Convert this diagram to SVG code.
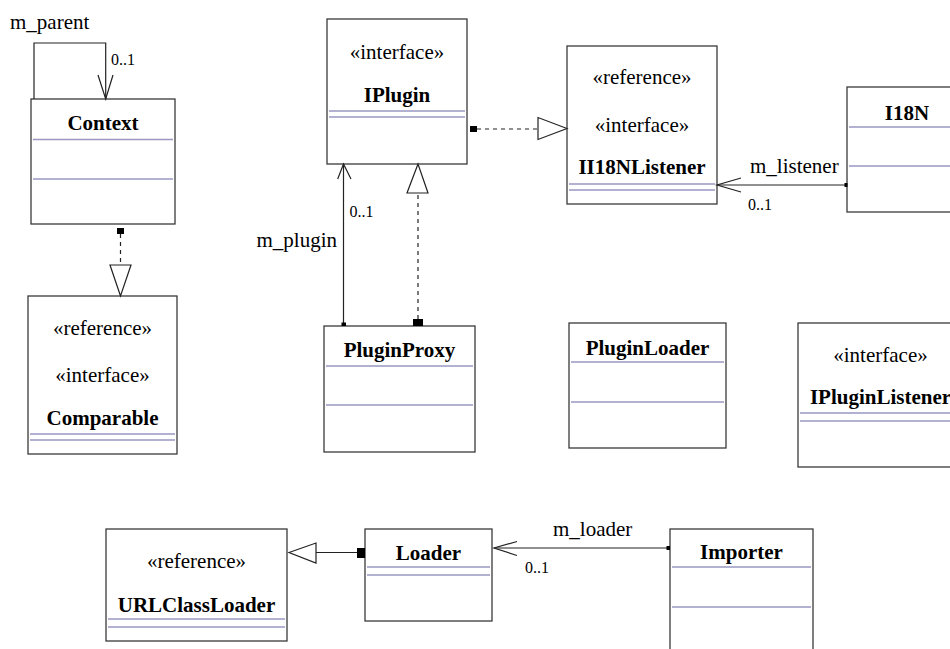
<svg xmlns="http://www.w3.org/2000/svg" width="950" height="649" viewBox="0 0 950 649">
  <style>
    .box { fill: #ffffff; stroke: #3a3a3a; stroke-width: 1.3; }
    .sep { stroke: #9a97c2; stroke-width: 1.3; fill: none; }
    .t { font-family: "Liberation Serif", "Times New Roman", serif; font-size: 21px; fill: #000; }
    .title { font-weight: bold; text-anchor: middle; }
    .st { text-anchor: middle; }
    .lbl { font-family: "Liberation Serif", "Times New Roman", serif; font-size: 21px; fill: #000; }
    .mult { font-family: "Liberation Serif", "Times New Roman", serif; font-size: 16px; fill: #000; }
    .ln { stroke: #222; stroke-width: 1.2; fill: none; }
    .dash { stroke: #222; stroke-width: 1.2; fill: none; stroke-dasharray: 4 4; }
    .tri { fill: #ffffff; stroke: #222; stroke-width: 1.2; }
    .sq { fill: #000; }
  </style>

  <!-- Classes -->
  <g id="Context">
    <rect class="box" x="31" y="99" width="144" height="125"/>
    <text class="t title" x="103" y="130">Context</text>
    <line class="sep" x1="33" y1="139.5" x2="173" y2="139.5"/>
    <line class="sep" x1="33" y1="179" x2="173" y2="179"/>
  </g>

  <g id="Comparable">
    <rect class="box" x="28" y="296" width="149" height="158"/>
    <text class="t st" x="102.5" y="335">«reference»</text>
    <text class="t st" x="102.5" y="382">«interface»</text>
    <text class="t title" x="102.5" y="425">Comparable</text>
    <line class="sep" x1="30" y1="434" x2="175" y2="434"/>
    <line class="sep" x1="30" y1="440" x2="175" y2="440"/>
  </g>

  <g id="IPlugin">
    <rect class="box" x="327" y="19" width="140" height="145"/>
    <text class="t st" x="397" y="59">«interface»</text>
    <text class="t title" x="397" y="102">IPlugin</text>
    <line class="sep" x1="329" y1="111" x2="465" y2="111"/>
    <line class="sep" x1="329" y1="117" x2="465" y2="117"/>
  </g>

  <g id="II18NListener">
    <rect class="box" x="567" y="46" width="150" height="158"/>
    <text class="t st" x="642" y="83.5">«reference»</text>
    <text class="t st" x="642" y="132">«interface»</text>
    <text class="t title" x="642" y="173.5">II18NListener</text>
    <line class="sep" x1="569" y1="184" x2="715" y2="184"/>
    <line class="sep" x1="569" y1="190" x2="715" y2="190"/>
  </g>

  <g id="I18N">
    <rect class="box" x="847" y="87" width="120" height="125"/>
    <text class="t title" x="907" y="120">I18N</text>
    <line class="sep" x1="849" y1="127" x2="965" y2="127"/>
    <line class="sep" x1="849" y1="166" x2="965" y2="166"/>
  </g>

  <g id="PluginProxy">
    <rect class="box" x="324" y="326" width="151" height="126"/>
    <text class="t title" x="399.5" y="357">PluginProxy</text>
    <line class="sep" x1="326" y1="366" x2="473" y2="366"/>
    <line class="sep" x1="326" y1="405" x2="473" y2="405"/>
  </g>

  <g id="PluginLoader">
    <rect class="box" x="569" y="323" width="157" height="125"/>
    <text class="t title" x="647.5" y="355">PluginLoader</text>
    <line class="sep" x1="571" y1="362" x2="724" y2="362"/>
    <line class="sep" x1="571" y1="402" x2="724" y2="402"/>
  </g>

  <g id="IPluginListener">
    <rect class="box" x="798" y="323" width="165" height="144"/>
    <text class="t st" x="880.5" y="362">«interface»</text>
    <text class="t title" x="880.5" y="403.5">IPluginListener</text>
    <line class="sep" x1="800" y1="413" x2="961" y2="413"/>
    <line class="sep" x1="800" y1="421" x2="961" y2="421"/>
  </g>

  <g id="URLClassLoader">
    <rect class="box" x="106" y="529" width="181" height="112"/>
    <text class="t st" x="196.5" y="568">«reference»</text>
    <text class="t title" x="196.5" y="612">URLClassLoader</text>
    <line class="sep" x1="108" y1="619" x2="285" y2="619"/>
    <line class="sep" x1="108" y1="627" x2="285" y2="627"/>
  </g>

  <g id="Loader">
    <rect class="box" x="365" y="529" width="127" height="92"/>
    <text class="t title" x="428.5" y="560">Loader</text>
    <line class="sep" x1="367" y1="567" x2="490" y2="567"/>
    <line class="sep" x1="367" y1="575" x2="490" y2="575"/>
  </g>

  <g id="Importer">
    <rect class="box" x="670" y="529" width="143" height="130"/>
    <text class="t title" x="741.5" y="559">Importer</text>
    <line class="sep" x1="672" y1="567" x2="811" y2="567"/>
    <line class="sep" x1="672" y1="607" x2="811" y2="607"/>
  </g>

  <!-- Connectors -->
  <g id="connectors">
    <!-- Context self association: m_parent -->
    <polyline class="ln" points="34,99 34,43 105.7,43 105.7,99"/>
    <polyline class="ln" points="98,75 105.7,99 113,75"/>
    <text class="lbl" x="10" y="29">m_parent</text>
    <text class="mult" x="111" y="65">0..1</text>

    <!-- Context realizes Comparable -->
    <rect class="sq" x="117" y="228" width="7" height="6"/>
    <line class="dash" x1="120.5" y1="234" x2="120.5" y2="265"/>
    <polygon class="tri" points="120.5,296 110,265 131,265"/>

    <!-- IPlugin realizes II18NListener -->
    <rect class="sq" x="470" y="126" width="7" height="6"/>
    <line class="dash" x1="477" y1="129" x2="538" y2="129"/>
    <polygon class="tri" points="567,128.5 538,117.5 538,139.5"/>

    <!-- I18N to II18NListener: m_listener -->
    <line class="ln" x1="717" y1="185" x2="847" y2="185"/>
    <rect class="sq" x="844.5" y="183" width="3" height="4"/>
    <polyline class="ln" points="741,178 717,185 741,192"/>
    <text class="lbl" x="750" y="173">m_listener</text>
    <text class="mult" x="748" y="210">0..1</text>

    <!-- PluginProxy to IPlugin: m_plugin -->
    <line class="ln" x1="343.5" y1="164" x2="343.5" y2="326"/>
    <rect class="sq" x="341.5" y="322.5" width="4.5" height="3.5"/>
    <polyline class="ln" points="337.7,179 343.5,164 351,179"/>
    <text class="lbl" x="337" y="247" text-anchor="end">m_plugin</text>
    <text class="mult" x="349.5" y="216.5">0..1</text>

    <!-- PluginProxy realizes IPlugin -->
    <rect class="sq" x="413" y="319" width="10" height="7"/>
    <line class="dash" x1="418" y1="319" x2="418" y2="193"/>
    <polygon class="tri" points="418,164 407,193 428,193"/>

    <!-- Loader extends URLClassLoader -->
    <rect class="sq" x="357" y="548" width="8" height="10"/>
    <line class="ln" x1="357" y1="552.5" x2="316" y2="552.5"/>
    <polygon class="tri" points="289,552.5 316,543 316,563"/>

    <!-- Importer to Loader: m_loader -->
    <line class="ln" x1="494" y1="548" x2="670" y2="548"/>
    <rect class="sq" x="666.5" y="546" width="3.5" height="4"/>
    <polyline class="ln" points="517,541.5 494,548 517,555.5"/>
    <text class="lbl" x="553" y="536">m_loader</text>
    <text class="mult" x="525" y="573">0..1</text>
  </g>
</svg>
